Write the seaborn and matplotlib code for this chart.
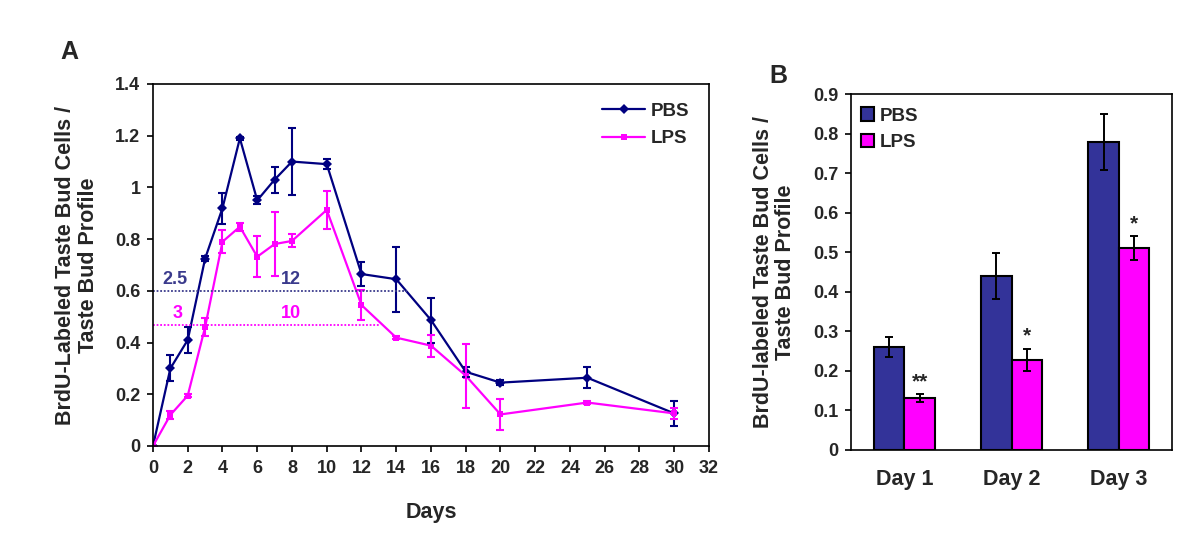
import numpy as np
import pandas as pd
import matplotlib
matplotlib.use("Agg")
import matplotlib.pyplot as plt
import seaborn as sns

# ---- Panel A data ----
days = [0, 1, 2, 3, 4, 5, 6, 7, 8, 10, 12, 14, 16, 18, 20, 25, 30]
pbs_mean = [0, 0.30, 0.41, 0.725, 0.92, 1.19, 0.95, 1.03, 1.10, 1.09, 0.665, 0.645, 0.487, 0.287, 0.245, 0.264, 0.126]
pbs_err = [0, 0.05, 0.05, 0.01, 0.06, 0.005, 0.015, 0.05, 0.13, 0.02, 0.045, 0.125, 0.087, 0.02, 0.01, 0.04, 0.047]
lps_mean = [0, 0.12, 0.195, 0.46, 0.79, 0.848, 0.732, 0.781, 0.793, 0.913, 0.545, 0.419, 0.388, 0.272, 0.122, 0.168, 0.126]
lps_err = [0, 0.015, 0.005, 0.035, 0.045, 0.015, 0.08, 0.125, 0.025, 0.073, 0.057, 0.005, 0.042, 0.124, 0.06, 0.005, 0.02]
x_ticks = list(range(0, 33, 2))
y_ticks_a = [0, 0.2, 0.4, 0.6, 0.8, 1, 1.2, 1.4]
y_tick_labels_a = ["0", "0.2", "0.4", "0.6", "0.8", "1", "1.2", "1.4"]

# half-max reference lines
pbs_half = 0.6
pbs_half_end = 14.6
lps_half = 0.466
lps_half_end = 13.0
pbs_half_labels = ["2.5", "12"]
lps_half_labels = ["3", "10"]

# ---- Panel B data ----
day_labels = ["Day 1", "Day 2", "Day 3"]
pbs_b = [0.261, 0.44, 0.778]
pbs_b_err = [0.025, 0.059, 0.071]
lps_b = [0.131, 0.2275, 0.51]
lps_b_err = [0.01, 0.028, 0.03]
sig = ["**", "*", "*"]
y_ticks_b = [0, 0.1, 0.2, 0.3, 0.4, 0.5, 0.6, 0.7, 0.8, 0.9]
y_tick_labels_b = ["0", "0.1", "0.2", "0.3", "0.4", "0.5", "0.6", "0.7", "0.8", "0.9"]

sns.set_theme(style="white")
plt.rcParams['font.family'] = ['Liberation Sans', 'DejaVu Sans']
plt.rcParams['font.weight'] = 'bold'

NAVY = "#000080"
MAG = "#FF00FF"
BAR_BLUE = "#333399"
TXT_BLUE = "#3a3a8c"

TICK_FS = 13
LABEL_FS = 15.5

fig = plt.figure(figsize=(12, 5.35), dpi=100)
axA = fig.add_axes([0.1275, 0.1664, 0.4633, 0.6766])
axB = fig.add_axes([0.709, 0.159, 0.268, 0.665])

# ---- Panel A ----
dfA = pd.DataFrame({
    "Days": days * 2,
    "val": pbs_mean + lps_mean,
    "grp": ["PBS"] * len(days) + ["LPS"] * len(days),
})
sns.lineplot(data=dfA, x="Days", y="val", hue="grp", style="grp",
             palette={"PBS": NAVY, "LPS": MAG},
             markers={"PBS": "D", "LPS": "s"}, dashes=False,
             markersize=5, linewidth=1.6, markeredgewidth=0,
             ax=axA, legend=True)
axA.errorbar(days, pbs_mean, yerr=pbs_err, fmt="none", ecolor=NAVY,
             elinewidth=1.5, capsize=3, capthick=1.5)
axA.errorbar(days, lps_mean, yerr=lps_err, fmt="none", ecolor=MAG,
             elinewidth=1.5, capsize=3, capthick=1.5)

axA.hlines(pbs_half, 0, pbs_half_end, colors=TXT_BLUE, linestyles=(0, (1, 1)), linewidth=1.3)
axA.hlines(lps_half, 0, lps_half_end, colors=MAG, linestyles=(0, (1, 1)), linewidth=1.3)
axA.text(0.55, pbs_half + 0.012, pbs_half_labels[0], color=TXT_BLUE, fontsize=13, fontweight="bold", va="bottom")
axA.text(7.35, pbs_half + 0.012, pbs_half_labels[1], color=TXT_BLUE, fontsize=13, fontweight="bold", va="bottom")
axA.text(1.15, lps_half + 0.012, lps_half_labels[0], color=MAG, fontsize=13, fontweight="bold", va="bottom")
axA.text(7.35, lps_half + 0.012, lps_half_labels[1], color=MAG, fontsize=13, fontweight="bold", va="bottom")

axA.set_xlim(0, 32)
axA.set_ylim(0, 1.4)
axA.set_xticks(x_ticks)
axA.set_xticklabels([str(t) for t in x_ticks], fontsize=TICK_FS, fontweight="bold")
axA.set_yticks(y_ticks_a)
axA.set_yticklabels(y_tick_labels_a, fontsize=TICK_FS, fontweight="bold")
axA.tick_params(axis="both", direction="out", length=4, width=1.2, color="black",
                bottom=True, left=True)
axA.tick_params(axis="x", pad=6)
axA.tick_params(axis="y", pad=5)
axA.set_xlabel("Days", fontsize=LABEL_FS, fontweight="bold", labelpad=18)
axA.set_ylabel("BrdU-Labeled Taste Bud Cells /\nTaste Bud Profile", fontsize=LABEL_FS,
               fontweight="bold", labelpad=12, linespacing=1.1)
for s in axA.spines.values():
    s.set_color("black")
    s.set_linewidth(1.2)
legA = axA.legend(loc="upper right", frameon=False, fontsize=13.5, handlelength=2.3,
                  handletextpad=0.3, labelspacing=0.55, bbox_to_anchor=(0.995, 0.995))
for t in legA.get_texts():
    t.set_fontweight("bold")

# ---- Panel B ----
dfB = pd.DataFrame({
    "day": day_labels * 2,
    "val": pbs_b + lps_b,
    "err": pbs_b_err + lps_b_err,
    "grp": ["PBS"] * 3 + ["LPS"] * 3,
})
sns.barplot(data=dfB, x="day", y="val", hue="grp", palette={"PBS": BAR_BLUE, "LPS": MAG},
            errorbar=None, width=0.57, edgecolor="black", linewidth=1.5, ax=axB, saturation=1)
bars = [p for p in axB.patches if p.get_height() > 0][:6]
centers = [b.get_x() + b.get_width() / 2 for b in bars]
heights = [b.get_height() for b in bars]
errs = pbs_b_err + lps_b_err
axB.errorbar(centers, heights, yerr=errs, fmt="none", ecolor="black",
             elinewidth=1.4, capsize=3, capthick=1.4)
for i in range(3):
    c = centers[3 + i]
    axB.text(c, lps_b[i] + lps_b_err[i] + 0.008, sig[i], ha="center", va="bottom",
             fontsize=15, fontweight="bold")

axB.set_ylim(0, 0.9)
axB.set_xlim(-0.5, 2.5)
axB.set_yticks(y_ticks_b)
axB.set_yticklabels(y_tick_labels_b, fontsize=TICK_FS, fontweight="bold")
axB.set_xticklabels(day_labels, fontsize=LABEL_FS, fontweight="bold")
axB.tick_params(axis="y", direction="out", length=4, width=1.2, color="black", left=True, pad=5)
axB.tick_params(axis="x", length=0, pad=14)
axB.set_xlabel("")
axB.set_ylabel("BrdU-labeled Taste Bud Cells /\nTaste Bud Profile", fontsize=LABEL_FS,
               fontweight="bold", labelpad=12, linespacing=1.1)
for s in axB.spines.values():
    s.set_color("black")
    s.set_linewidth(1.2)
legB = axB.legend(loc="upper left", frameon=False, fontsize=13.5, handlelength=0.7,
                  handleheight=0.7, handletextpad=0.3, labelspacing=0.5,
                  bbox_to_anchor=(-0.02, 1.01))
for t in legB.get_texts():
    t.set_fontweight("bold")

fig.text(0.05, 0.89, "A", fontsize=18, fontweight="bold")
fig.text(0.641, 0.845, "B", fontsize=18, fontweight="bold")

fig.savefig("out.png", dpi=100)
